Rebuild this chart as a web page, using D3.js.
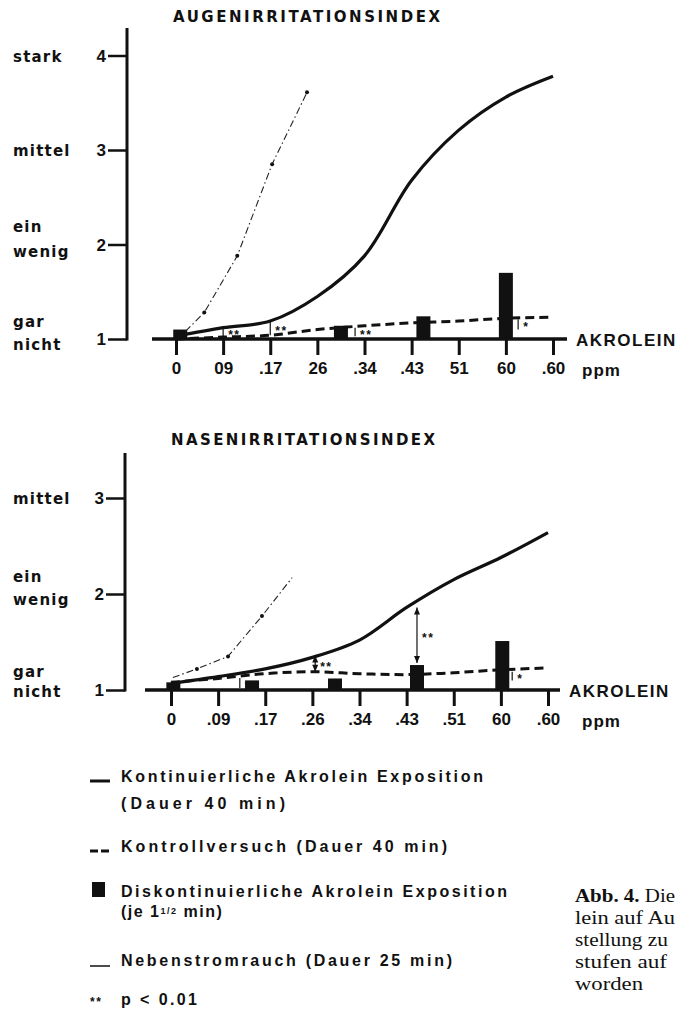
<!DOCTYPE html>
<html>
<head>
<meta charset="utf-8">
<script src="https://cdn.jsdelivr.net/npm/d3@7"></script>
<style>
  html, body { margin: 0; padding: 0; background: #fff; }
  svg { display: block; }
  text { fill: #111; }
</style>
</head>
<body>
<svg id="chart" width="678" height="1015"></svg>
<script>
// ---------------- DATA ----------------
const tickPositions = [0, 1, 2, 3, 4, 5, 6, 7, 8];
const eyeTickLabels = ["0", "09", ".17", "26", ".34", ".43", "51", "60", ".60"];
const noseTickLabels = ["0", ".09", ".17", ".26", ".34", ".43", ".51", "60", ".60"];

const eyeYTicks = [1, 2, 3, 4];
const eyeYLevelLabels = [["gar", "nicht"], ["ein", "wenig"], ["mittel"], ["stark"]];
const noseYTicks = [1, 2, 3];
const noseYLevelLabels = [["gar", "nicht"], ["ein", "wenig"], ["mittel"]];

// Augenirritationsindex
const eyeContinuous = [1.03, 1.12, 1.19, 1.45, 1.88, 2.68, 3.21, 3.56, 3.78];
const eyeControl    = [1.00, 1.02, 1.04, 1.10, 1.14, 1.17, 1.19, 1.22, 1.23];
const eyeBarPos     = [0.09, 3.5, 5.25, 7.0];
const eyeBarVal     = [1.10, 1.14, 1.24, 1.70];
const eyeSmokePos   = [0.2, 0.6, 1.3, 2.04, 2.78];
const eyeSmokeVal   = [1.08, 1.28, 1.88, 2.85, 3.61];
const eyeSmokeDots  = [false, true, true, true, true];
const eyeSigPos     = [1.0, 2.0, 3.8, 7.26];
const eyeSigLow     = [1.02, 1.04, 1.03, 1.10];
const eyeSigHigh    = [1.13, 1.19, 1.12, 1.21];
const eyeSigLabel   = ["**", "**", "**", "*"];
const eyeSigArrow   = [false, false, false, false];

// Nasenirritationsindex
const noseContinuous = [1.07, 1.14, 1.22, 1.34, 1.52, 1.86, 2.15, 2.38, 2.64];
const noseControl    = [1.08, 1.12, 1.17, 1.19, 1.17, 1.16, 1.18, 1.21, 1.23];
const noseBarPos     = [0.05, 1.72, 3.48, 5.22, 7.03];
const noseBarVal     = [1.08, 1.10, 1.12, 1.26, 1.51];
const noseSmokePos   = [0.04, 0.55, 1.21, 1.93, 2.57];
const noseSmokeVal   = [1.13, 1.22, 1.35, 1.77, 2.17];
const noseSmokeDots  = [false, true, true, true, false];
const noseSigPos     = [1.46, 3.06, 5.22, 7.24];
const noseSigLow     = [1.02, 1.19, 1.28, 1.10];
const noseSigHigh    = [1.125, 1.36, 1.86, 1.19];
const noseSigLabel   = ["**", "**", "**", "*"];
const noseSigArrow   = [false, true, true, false];

// ---------------- DRAW ----------------
const svg = d3.select("#chart");
const SANS = "'Liberation Sans', Arial, sans-serif";
const WIDE = "'DejaVu Sans', Verdana, sans-serif";
const SERIF = "'Liberation Serif', 'Times New Roman', serif";

function panel(o) {
  const g = svg.append("g");
  const x = d3.scaleLinear().domain([0, 8]).range(o.xRange);
  const y = d3.scaleLinear().domain(o.yDomain).range(o.yRange);

  // title
  g.append("text").attr("x", o.titleX).attr("y", o.titleY)
    .attr("font-family", WIDE).attr("font-size", 15).attr("font-weight", "bold")
    .attr("textLength", o.titleLen).attr("lengthAdjust", "spacing")
    .text(o.title);

  // y axis
  const yAxis = d3.axisLeft(y).tickValues(o.yTicks).tickSize(19).tickFormat("");
  const ya = g.append("g").attr("transform", `translate(${o.yAxisX},0)`).call(yAxis);
  ya.select(".domain").remove();
  ya.selectAll(".tick line").attr("stroke", "#111").attr("stroke-width", 2.5);
  g.append("line").attr("x1", o.yAxisX).attr("x2", o.yAxisX)
    .attr("y1", o.yAxisTop).attr("y2", y(o.yDomain[0]) + 1.5)
    .attr("stroke", "#111").attr("stroke-width", 3);
  // numbers
  g.selectAll(".ynum").data(o.yTicks).join("text")
    .attr("x", o.yAxisX - 21).attr("y", d => y(d) + 6)
    .attr("text-anchor", "end").attr("font-family", SANS)
    .attr("font-weight", "bold").attr("font-size", 17).text(d => d);
  // verbal levels
  o.yTicks.forEach((t, i) => {
    const lines = o.yLevels[i];
    const offs = lines.length === 1 ? [6] : o.twoLineOffs(t);
    lines.forEach((ln, j) => {
      g.append("text").attr("x", 13).attr("y", y(t) + offs[j])
        .attr("font-family", WIDE).attr("font-weight", "bold")
        .attr("font-size", 15).attr("letter-spacing", 1.2).text(ln);
    });
  });

  // x baseline + ticks
  const base = y(o.yDomain[0]);
  g.append("line").attr("x1", o.baseFrom).attr("x2", o.baseTo)
    .attr("y1", base).attr("y2", base).attr("stroke", "#111").attr("stroke-width", 3.5);
  const xAxis = d3.axisBottom(x).tickValues(tickPositions).tickSize(16)
    .tickFormat((d, i) => o.tickLabels[i]).tickPadding(7);
  const xa = g.append("g").attr("transform", `translate(0,${base})`).call(xAxis);
  xa.select(".domain").remove();
  xa.selectAll(".tick line").attr("stroke", "#111").attr("stroke-width", 3);
  xa.selectAll(".tick text").attr("font-family", SANS).attr("font-size", 17)
    .attr("fill", "#111").attr("font-weight", "bold");
  g.append("text").attr("x", o.baseTo + 9).attr("y", base + 7)
    .attr("font-family", SANS).attr("font-size", 17).attr("letter-spacing", 1.5)
    .attr("font-weight", "bold").text("AKROLEIN");
  g.append("text").attr("x", o.ppmX).attr("y", base + 37)
    .attr("font-family", SANS).attr("font-size", 17).attr("letter-spacing", 1)
    .attr("font-weight", "bold").text("ppm");

  // bars
  g.selectAll(".bar").data(o.barPos.map((p, i) => ({ p, v: o.barVal[i] }))).join("rect")
    .attr("x", d => x(d.p) - 7).attr("width", 14)
    .attr("y", d => y(d.v)).attr("height", d => base - y(d.v))
    .attr("fill", "#111");

  const line = d3.line().x(d => x(d[0])).y(d => y(d[1])).curve(d3.curveCatmullRom.alpha(0.5));
  // control (dashed)
  g.append("path").datum(tickPositions.map((p, i) => [p, o.control[i]]))
    .attr("d", line).attr("fill", "none").attr("stroke", "#111")
    .attr("stroke-width", 3).attr("stroke-dasharray", "9,5");

  // continuous (solid)
  g.append("path").datum(tickPositions.map((p, i) => [p, o.continuous[i]]))
    .attr("d", line).attr("fill", "none").attr("stroke", "#111")
    .attr("stroke-width", 3.2);

  // side stream smoke (thin dash-dot)
  const sline = d3.line().x(d => x(d[0])).y(d => y(d[1])).curve(d3.curveLinear);
  const sdata = o.smokePos.map((p, i) => [p, o.smokeVal[i]]);
  g.append("path").datum(sdata).attr("d", sline).attr("fill", "none")
    .attr("stroke", "#222").attr("stroke-width", 1.1).attr("stroke-dasharray", "7,3,1.5,3");
  g.selectAll(".sdot").data(sdata.filter((d, i) => o.smokeDots[i])).join("circle")
    .attr("cx", d => x(d[0])).attr("cy", d => y(d[1])).attr("r", 2).attr("fill", "#111");

  // significance markers
  o.sigPos.forEach((p, i) => {
    const xx = x(p), y0 = y(o.sigLow[i]), y1 = y(o.sigHigh[i]);
    g.append("line").attr("x1", xx).attr("x2", xx).attr("y1", y0).attr("y2", y1)
      .attr("stroke", "#111").attr("stroke-width", 1.2);
    if (o.sigArrow[i]) {
      g.append("path").attr("d", `M${xx - 3},${y1 + 7}L${xx},${y1}L${xx + 3},${y1 + 7}Z`).attr("fill", "#111");
      g.append("path").attr("d", `M${xx - 3},${y0 - 7}L${xx},${y0}L${xx + 3},${y0 - 7}Z`).attr("fill", "#111");
    }
    g.append("text").attr("x", xx + 5).attr("y", (y0 + y1) / 2 + 7)
      .attr("font-family", SANS).attr("font-size", 12).attr("font-weight", "bold")
      .attr("letter-spacing", 1.5).text(o.sigLabel[i]);
  });
}

panel({
  title: "AUGENIRRITATIONSINDEX", titleX: 173, titleY: 22, titleLen: 267,
  xRange: [176, 553], yDomain: [1, 4], yRange: [339, 55.5],
  yTicks: eyeYTicks, yLevels: eyeYLevelLabels, yAxisX: 127, yAxisTop: 28,
  twoLineOffs: t => (t === 1 ? [-12, 11] : [-13, 12]),
  baseFrom: 152, baseTo: 567, ppmX: 582, tickLabels: eyeTickLabels,
  continuous: eyeContinuous, control: eyeControl,
  barPos: eyeBarPos, barVal: eyeBarVal,
  smokePos: eyeSmokePos, smokeVal: eyeSmokeVal, smokeDots: eyeSmokeDots,
  sigPos: eyeSigPos, sigLow: eyeSigLow, sigHigh: eyeSigHigh, sigLabel: eyeSigLabel, sigArrow: eyeSigArrow
});

panel({
  title: "NASENIRRITATIONSINDEX", titleX: 171, titleY: 445, titleLen: 264,
  xRange: [171, 548], yDomain: [1, 3], yRange: [690, 498],
  yTicks: noseYTicks, yLevels: noseYLevelLabels, yAxisX: 125, yAxisTop: 453,
  twoLineOffs: t => (t === 1 ? [-13, 7] : [-12, 11]),
  baseFrom: 145, baseTo: 560, ppmX: 582, tickLabels: noseTickLabels,
  continuous: noseContinuous, control: noseControl,
  barPos: noseBarPos, barVal: noseBarVal,
  smokePos: noseSmokePos, smokeVal: noseSmokeVal, smokeDots: noseSmokeDots,
  sigPos: noseSigPos, sigLow: noseSigLow, sigHigh: noseSigHigh, sigLabel: noseSigLabel, sigArrow: noseSigArrow
});

// ---------------- LEGEND ----------------
const lg = svg.append("g").attr("font-family", SANS).attr("font-size", 16).attr("font-weight", "bold");
function ltext(x, y, s, len) {
  const t = lg.append("text").attr("x", x).attr("y", y).text(s);
  if (len) t.attr("textLength", len).attr("lengthAdjust", "spacing");
  return t;
}
lg.append("line").attr("x1", 90).attr("x2", 110).attr("y1", 781).attr("y2", 781)
  .attr("stroke", "#111").attr("stroke-width", 3);
ltext(121, 782, "Kontinuierliche  Akrolein  Exposition", 362);
ltext(121, 809, "(Dauer  40 min)", 164);

lg.append("line").attr("x1", 90).attr("x2", 110).attr("y1", 851).attr("y2", 851)
  .attr("stroke", "#111").attr("stroke-width", 3).attr("stroke-dasharray", "8,3");
ltext(121, 852, "Kontrollversuch  (Dauer  40 min)", 326);

lg.append("rect").attr("x", 92).attr("y", 882).attr("width", 13).attr("height", 15).attr("fill", "#111");
ltext(121, 897, "Diskontinuierliche  Akrolein  Exposition", 386);
const je = lg.append("text").attr("x", 121).attr("y", 917).attr("letter-spacing", 1.5);
je.append("tspan").text("(je  1");
je.append("tspan").attr("font-size", 9).attr("dy", -3).text("1/2");
je.append("tspan").attr("dy", 3).text(" min)");

lg.append("line").attr("x1", 90).attr("x2", 110).attr("y1", 966).attr("y2", 966)
  .attr("stroke", "#111").attr("stroke-width", 1.5);
ltext(121, 966, "Nebenstromrauch  (Dauer  25 min)", 331);

lg.append("text").attr("x", 90).attr("y", 1006).attr("font-size", 12)
  .attr("letter-spacing", 1.5).text("**");
ltext(121, 1005, "p < 0.01", 76);

// ---------------- CAPTION (visible part, page is cut at right edge) ----------------
const cap = svg.append("g").attr("font-family", SERIF).attr("font-size", 19);
function ctext(y, len) {
  return cap.append("text").attr("x", 575).attr("y", y)
    .attr("textLength", len).attr("lengthAdjust", "spacingAndGlyphs");
}
const c1 = ctext(902, 100);
c1.append("tspan").attr("font-weight", "bold").text("Abb. 4.");
c1.append("tspan").text(" Die");
ctext(924, 100).text("lein auf Au");
ctext(946, 93).text("stellung zu");
ctext(968, 92).text("stufen auf");
ctext(990, 68).text("worden");
</script>
</body>
</html>
